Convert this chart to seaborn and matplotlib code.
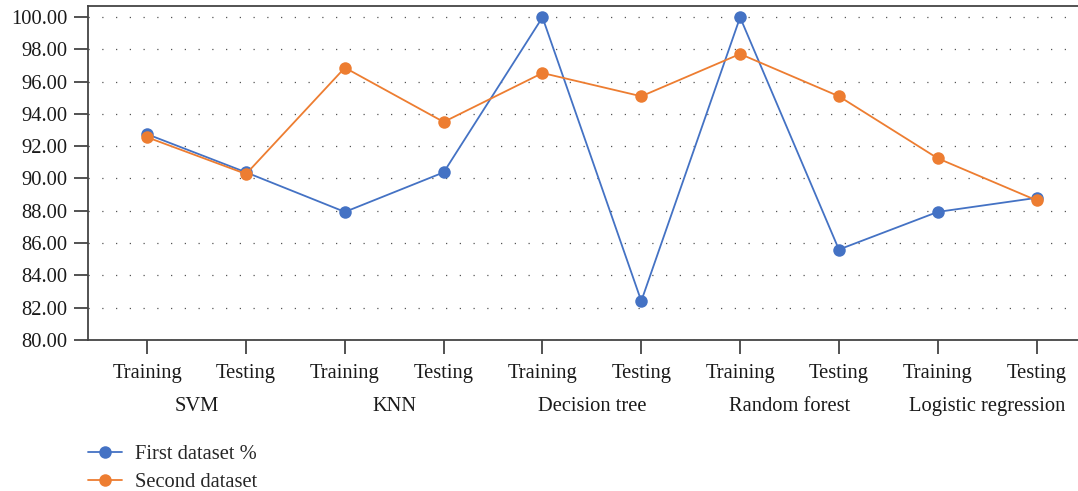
import numpy as np
import pandas as pd
import matplotlib
matplotlib.use("Agg")
import matplotlib.pyplot as plt
import seaborn as sns

# Data
models = ["SVM", "KNN", "Decision tree", "Random forest", "Logistic regression"]
phases = ["Training", "Testing"]
first_dataset = [92.74, 90.38, 87.93, 90.38, 99.98, 82.41, 99.98, 85.60, 87.93, 88.80]
second_dataset = [92.55, 90.28, 96.86, 93.50, 96.53, 95.09, 97.71, 95.09, 91.25, 88.65]
series_names = ["First dataset %", "Second dataset"]
colors = ["#4472C4", "#ED7D31"]

sns.set_style("white")
plt.rcParams["font.family"] = ["Liberation Serif", "DejaVu Serif"]

# long-form table for seaborn
n = len(first_dataset)
pos = np.arange(n)
df = pd.DataFrame({
    "pos": np.concatenate([pos, pos]),
    "value": first_dataset + second_dataset,
    "series": [series_names[0]] * n + [series_names[1]] * n,
})

fs = 14.8
fig = plt.figure(figsize=(10.78, 4.91), dpi=100)
ax = fig.add_axes([88 / 1078, 1 - 340 / 491, 1 - 88 / 1078, (340 - 6) / 491])

sns.lineplot(data=df, x="pos", y="value", hue="series", palette=colors,
             marker="o", markersize=9, markeredgewidth=0, linewidth=1.3,
             ax=ax, legend=True)

ax.set_xlim(-0.6, 9.42)
ax.set_ylim(80, 100.68)
ax.set_yticks(np.arange(80, 101, 2))
ax.set_yticklabels([f"{v:.2f}" for v in np.arange(80, 101, 2)])
ax.set_xticks(pos)
ax.set_xticklabels(phases * len(models))
ax.set_xlabel("")
ax.set_ylabel("")

ax.tick_params(axis="both", labelsize=fs, colors="#444444", labelcolor="#1a1a1a",
               length=10, width=1.3, direction="out", bottom=True, left=True)
ax.tick_params(axis="x", pad=7)
ax.tick_params(axis="y", pad=5)

for side in ["left", "bottom", "top"]:
    ax.spines[side].set_visible(True)
    ax.spines[side].set_color("#444444")
    ax.spines[side].set_linewidth(1.3)
ax.spines["right"].set_visible(False)

ax.yaxis.grid(True, linestyle=(0, (1, 10)), linewidth=0.9, color="#555555")
ax.xaxis.grid(False)
ax.set_axisbelow(True)

# model group labels under the tick labels
for i, m in enumerate(models):
    ax.text(2 * i + 0.5, -0.2, m, transform=ax.get_xaxis_transform(),
            ha="center", va="center", fontsize=fs, color="#1a1a1a")

handles, labels = ax.get_legend_handles_labels()
ax.legend(handles, labels, loc="upper left", bbox_to_anchor=(88 / 1078, 0.094),
          bbox_transform=fig.transFigure, frameon=False, fontsize=fs,
          handlelength=1.65, handletextpad=0.65, labelspacing=0.4,
          borderpad=0, borderaxespad=0)

fig.savefig("out.png", dpi=100)
